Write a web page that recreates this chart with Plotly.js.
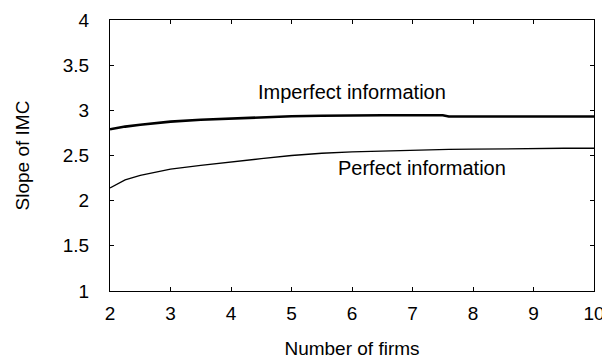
<!DOCTYPE html>
<html>
<head>
<meta charset="utf-8">
<script src="https://cdn.plot.ly/plotly-3.0.1.min.js"></script>
<style>
html,body{margin:0;padding:0;background:#fff;}
#chart{width:602px;height:363px;}
</style>
</head>
<body>
<div id="chart"></div>
<script>
// Number of firms (x)
var firms = [2, 2.25, 2.5, 3, 3.5, 4, 4.5, 5, 5.5, 6, 6.5, 7, 7.5, 7.6, 8, 8.5, 9, 9.5, 10];
// Slope of IMC, imperfect information
var imperfect = [2.79, 2.82, 2.84, 2.875, 2.895, 2.91, 2.925, 2.935, 2.94, 2.945, 2.945, 2.945, 2.945, 2.932, 2.932, 2.932, 2.932, 2.932, 2.932];
// Slope of IMC, perfect information
var perfect = [2.14, 2.23, 2.28, 2.35, 2.39, 2.43, 2.465, 2.50, 2.525, 2.54, 2.55, 2.56, 2.565, 2.567, 2.57, 2.575, 2.578, 2.58, 2.58];

var xTicks = [2, 3, 4, 5, 6, 7, 8, 9, 10];
var yTicks = [1, 1.5, 2, 2.5, 3, 3.5, 4];
var yTickText = ["1   ", "1.5   ", "2   ", "2.5   ", "3   ", "3.5   ", "4   "];
var xRange = [2, 10];
var yRange = [1, 4];

var labelImperfect = "Imperfect information";
var labelPerfect = "Perfect information";

var FONT = "Liberation Sans, Arial, sans-serif";

var traces = [
  {x: firms, y: imperfect, type: "scatter", mode: "lines", line: {color: "#000", width: 2.6}, hoverinfo: "skip"},
  {x: firms, y: perfect, type: "scatter", mode: "lines", line: {color: "#000", width: 1.3}, hoverinfo: "skip"}
];

function axis(extra) {
  var a = {
    showgrid: false, zeroline: false, showline: true, linecolor: "#000", linewidth: 1.4,
    mirror: "ticks", ticks: "inside", ticklen: 4, tickwidth: 1.2, tickcolor: "#000",
    tickfont: {family: FONT, size: 19, color: "#000"}, ticklabeloverflow: "allow"
  };
  for (var k in extra) a[k] = extra[k];
  return a;
}

var layout = {
  width: 602, height: 363,
  margin: {l: 110, r: 8, t: 20, b: 72},
  paper_bgcolor: "#fff", plot_bgcolor: "#fff",
  showlegend: false,
  font: {family: FONT, color: "#000"},
  xaxis: axis({
    range: xRange, tickvals: xTicks, ticklabelstandoff: 5,
    title: {text: "Number of firms", font: {family: FONT, size: 19, color: "#000"}, standoff: 18}
  }),
  yaxis: axis({
    range: yRange, tickvals: yTicks, ticktext: yTickText,
    title: {text: "Slope of IMC", font: {family: FONT, size: 19, color: "#000"}, standoff: 28}
  }),
  annotations: [
    {x: 6, y: 3.2, xref: "x", yref: "y", text: labelImperfect, showarrow: false,
     xanchor: "center", yanchor: "middle", font: {family: FONT, size: 20, color: "#000"}},
    {x: 7.165, y: 2.367, xref: "x", yref: "y", text: labelPerfect, showarrow: false,
     xanchor: "center", yanchor: "middle", font: {family: FONT, size: 20, color: "#000"}}
  ]
};

Plotly.newPlot("chart", traces, layout, {displayModeBar: false});
</script>
</body>
</html>
